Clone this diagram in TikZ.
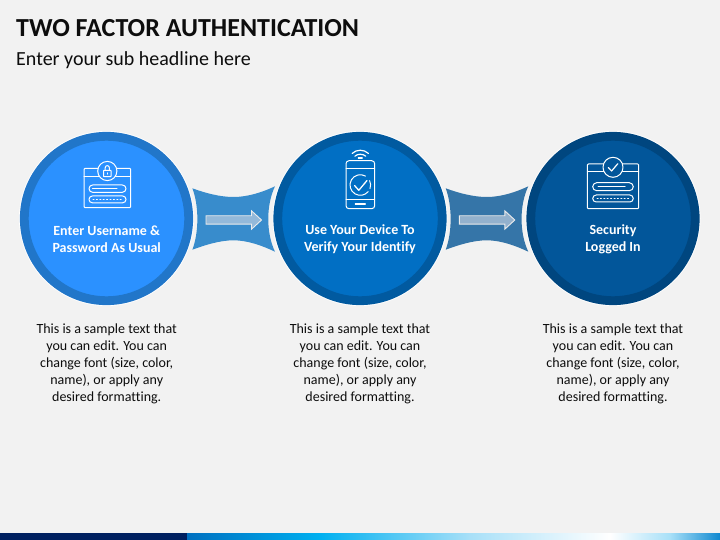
\documentclass[tikz,border=0pt]{standalone}
\usepackage{fontspec}
\setmainfont[Ligatures=NoCommon]{Carlito}
\definecolor{bgc}{HTML}{F2F2F2}
\definecolor{txt}{HTML}{0D0D0D}
\definecolor{ringA}{HTML}{2176C9}
\definecolor{fillA}{HTML}{2B91FF}
\definecolor{ringB}{HTML}{015AA0}
\definecolor{fillB}{HTML}{016FC4}
\definecolor{ringC}{HTML}{00467F}
\definecolor{fillC}{HTML}{02569A}
\definecolor{linkA}{HTML}{388CCC}
\definecolor{linkB}{HTML}{3575A8}
\definecolor{arrA}{HTML}{93B9DA}
\definecolor{arrB}{HTML}{93B1CD}
\definecolor{bandN}{HTML}{002060}
\definecolor{bandA}{HTML}{0070C0}
\definecolor{bandB}{HTML}{00B0F0}
\definecolor{bandC}{HTML}{A8E0F8}
\definecolor{bandD}{HTML}{FFFFFF}
\definecolor{bandE}{HTML}{0F88D0}
\tikzset{
  x=1pt,y=-1pt,
  ring/.style={circle,minimum size=164.4pt,inner sep=0pt,line width=8.8pt,draw=#1},
  halo/.style={circle,minimum size=175pt,inner sep=0pt,fill=white},
  lbl/.style={text=white,font=\bfseries\fontsize{14}{17}\selectfont,align=center},
  body/.style={text=txt,font=\fontsize{14}{17}\selectfont,align=center},
  icon/.style={draw=white,line width=1pt,line cap=round,line join=round},
  blockarrow/.style={draw=white!85!gray,line width=0.9pt,line join=miter}
}
\begin{document}
\begin{tikzpicture}
\useasboundingbox (0,0) rectangle (720,540);
\fill[bgc] (0,0) rectangle (720,540);
% bottom band
\fill[white] (0,532.6) rectangle (310,533.4);
\fill[white] (497,532.6) rectangle (720,533.4);
\shade[left color=bandA,right color=bandB] (187,533.4) rectangle (320,540);
\shade[left color=bandB,right color=bandC] (320,533.4) rectangle (470,540);
\shade[left color=bandC,right color=bandD] (470,533.4) rectangle (610,540);
\shade[left color=bandD,right color=bandC] (610,533.4) rectangle (670,540);
\shade[left color=bandC,right color=bandE] (670,533.4) rectangle (720,540);
\fill[bandN] (0,533.4) rectangle (187,540);
% title
\node[anchor=base west,inner sep=0pt,text=txt,font=\bfseries\fontsize{26}{30}\selectfont] (title) at (16,37) {TWO FACTOR AUTHENTICATION};
\node[anchor=base west,inner sep=0pt,text=txt,font=\fontsize{20}{24}\selectfont] (sub) at (16,66) {Enter your sub headline here};
% connectors
\foreach \dx/\col/\acol in {0/linkA/arrA,253.3/linkB/arrB}{
  \begin{scope}[xshift=\dx pt]
  \fill[\col] (192.4,188.3) .. controls (205,193) and (220,197) .. (233.5,197)
     .. controls (248,197) and (263,192) .. (275,186.3)
     .. controls (266,205) and (266,233) .. (275,251.7)
     .. controls (263,246) and (248,240.3) .. (233.5,240.3)
     .. controls (220,240.3) and (205,245) .. (192.4,249.7)
     .. controls (199,232) and (199,206) .. (192.4,188.3) -- cycle;
  \draw[blockarrow,fill=\acol] (206,215.8) -- (251.5,215.8) -- (251.5,210.8) -- (261.5,220) -- (251.5,229.2) -- (251.5,224.2) -- (206,224.2) -- cycle;
  \end{scope}
}
% circles
\node[halo] at (106.5,218.5) {};
\node[halo] at (360,218.5) {};
\node[halo] at (613,218.5) {};
\node[ring=ringA,fill=fillA] (c1) at (106.5,218.5) {};
\node[ring=ringB,fill=fillB] (c2) at (360,218.5) {};
\node[ring=ringC,fill=fillC] (c3) at (613,218.5) {};
% icon 1
\draw[icon,rounded corners=1pt] (84,168.3) rectangle (130.7,207.7);
\draw[icon] (84,176.5) -- (130.7,176.5);
\draw[icon,fill=fillA] (107.3,171) circle (9.6);
\draw[icon,rounded corners=0.6pt] (103.5,170.3) rectangle (111.1,176.7);
\draw[icon] (105.2,170.3) -- (105.2,167.8) .. controls (105.2,164.9) and (109.4,164.9) .. (109.4,167.8) -- (109.4,170.3);
\draw[icon] (107.3,172.8) -- (107.3,174.2);
\draw[icon,rounded corners=3.6pt] (89,185) rectangle (126,192.3);
\draw[icon] (92.5,188.6) -- (117,188.6);
\draw[icon,rounded corners=3.3pt] (89,196) rectangle (126,202.8);
\draw[icon,dash pattern=on 1pt off 2.4pt] (93,199.4) -- (122,199.4);
% icon 2
\draw[icon,rounded corners=3pt] (346,160.7) rectangle (374.7,208.7);
\draw[icon] (346,168.3) -- (374.7,168.3);
\draw[icon] (346,199.3) -- (374.7,199.3);
\draw[icon,line width=1.2pt] (355.3,204) -- (365.3,204);
\draw[icon] (360.3,185) ++(-60:10.3) arc (-60:-320:10.3);
\draw[icon] (360.3,185) ++(-340:10.3) arc (-340:-385:10.3);
\draw[icon,line width=1.3pt] (354.5,185.5) -- (358.8,190.3) -- (367,180.5);
\draw[icon,line width=1.2pt] (352.2,153.4) .. controls (356.5,149.2) and (364,149.2) .. (368.4,153.4);
\draw[icon,line width=1.2pt] (354.9,156.2) .. controls (357.5,153.6) and (363,153.6) .. (365.7,156.2);
\draw[icon,line width=1.4pt] (358.4,158.2) -- (362.2,158.2);
% icon 3
\draw[icon,rounded corners=1pt] (587.3,164) rectangle (638.7,208.7);
\draw[icon] (587.3,171.7) -- (638.7,171.7);
\draw[icon,fill=fillC] (613,167.3) circle (10);
\draw[icon,line width=1.2pt] (608.3,167.6) -- (611.6,171) -- (617.8,163.7);
\draw[icon,rounded corners=4pt] (592.7,182.7) rectangle (633.3,190.7);
\draw[icon] (598,186.7) -- (625,186.7);
\draw[icon,rounded corners=3.5pt] (592.7,195) rectangle (633.3,202);
\draw[icon,dash pattern=on 1pt off 2.4pt] (597,198.5) -- (629,198.5);
% labels
\node[lbl] (l1) at (106.7,238.8) {Enter Username \&\\Password As Usual};
\node[lbl] (l2) at (360,238.8) {Use Your Device To\\Verify Your Identify};
\node[lbl] (l3) at (613,238.8) {Security\\Logged In};
% bodies
\foreach \x/\nm in {106.7/b1,360/b2,613/b3}{
  \node[body,anchor=north] (\nm) at (\x,320) {This is a sample text that\\you can edit. You can\\change font (size, color,\\name), or apply any\\desired formatting.};
}
\end{tikzpicture}
\end{document}
